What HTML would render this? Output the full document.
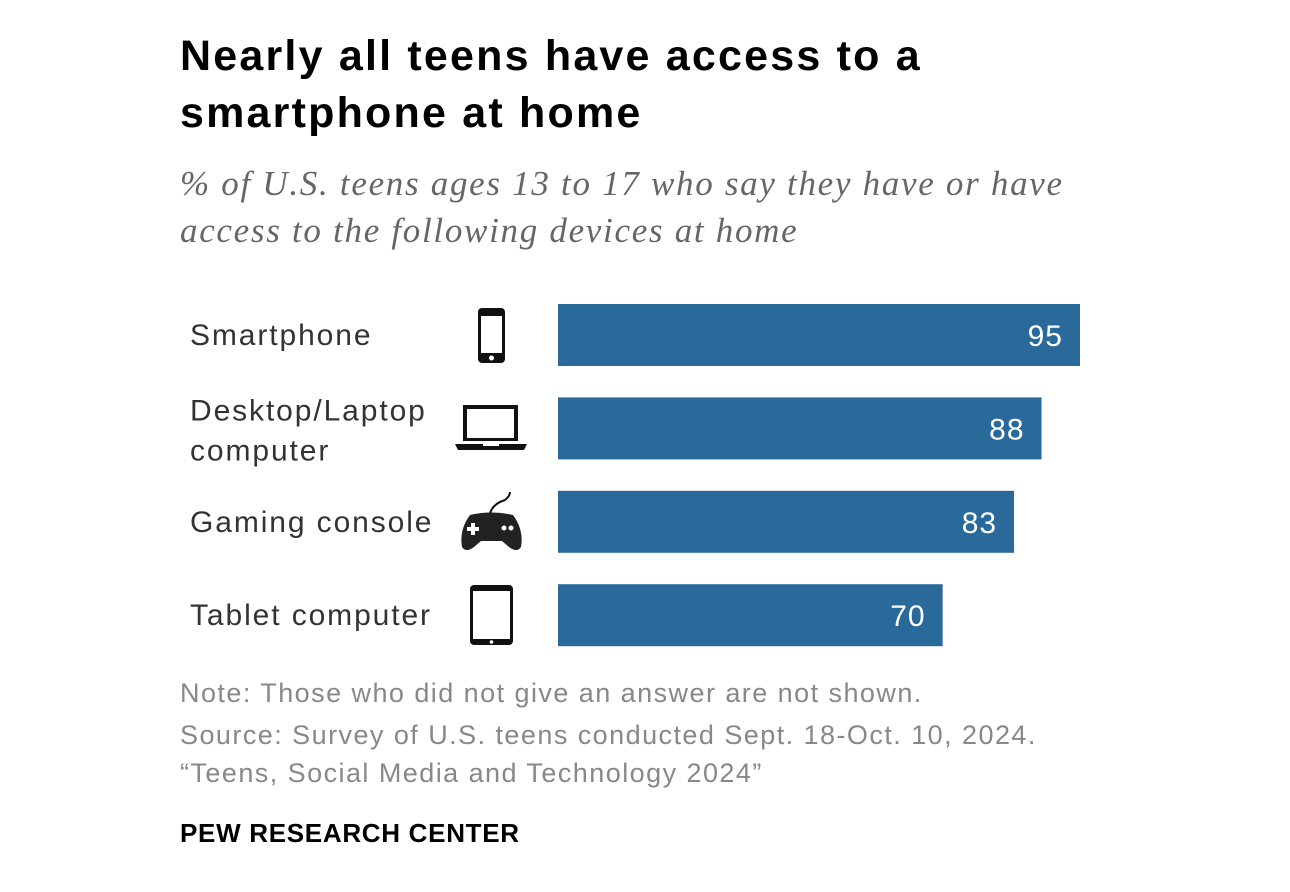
<!DOCTYPE html>
<html><head><meta charset="utf-8"><style>
html,body{margin:0;padding:0;background:#fff;}
body{width:1290px;height:892px;position:relative;overflow:hidden;font-family:"Liberation Sans",sans-serif;}
.t{position:absolute;left:180px;top:28px;font-size:43px;font-weight:bold;line-height:57px;color:#000;letter-spacing:2.2px;}
.s{position:absolute;left:180px;top:160px;font-family:"Liberation Serif",serif;font-style:italic;font-size:35px;line-height:47px;color:#666;letter-spacing:1.7px;}
.n{position:absolute;left:180px;font-size:27px;color:#888;letter-spacing:1.45px;}
.p{position:absolute;left:180px;top:818px;font-size:26px;font-weight:bold;color:#000;letter-spacing:0.7px;}
</style></head><body>
<div class="t">Nearly all teens have access to a<br>smartphone at home</div>
<div class="s">% of U.S. teens ages 13 to 17 who say they have or have<br>access to the following devices at home</div>
<svg id="chart" width="1290" height="892" style="position:absolute;left:0;top:0">
<g>
<rect x="478" y="308" width="27" height="55" rx="4" fill="#111"/><rect x="481" y="316" width="21" height="37" fill="#fff"/><circle cx="491.5" cy="358" r="2.5" fill="#fff"/></g>
<g>
<rect x="463" y="405" width="55" height="36" fill="#111"/><rect x="467" y="409" width="47" height="29" fill="#fff"/><path d="M455 444 L527 444 L524 450 L458 450 Z" fill="#111"/><rect x="483" y="444" width="16" height="2" fill="#fff"/></g>
<g>
<path d="M489 520 Q489 505 505 500 Q510 496 510 492" stroke="#111" stroke-width="2" fill="none"/>
<path d="M470 515 Q491 510 513 515 Q524 530 521 547 Q517 553 509 547 L502 541 L481 541 L474 547 Q466 553 462 547 Q459 530 470 515 Z" fill="#222"/>
<rect x="467" y="527" width="12" height="4" fill="#fff"/><rect x="471" y="523" width="4" height="12" fill="#fff"/><circle cx="504" cy="528" r="2.5" fill="#fff"/><circle cx="511" cy="528" r="2.5" fill="#fff"/></g>
<g>
<rect x="470" y="585" width="43" height="60" rx="4" fill="#111"/><rect x="473" y="591" width="37" height="48" fill="#fff"/><circle cx="491.5" cy="642" r="1.8" fill="#fff"/></g>
</svg>
<div class="n" style="top:678px">Note: Those who did not give an answer are not shown.</div>
<div class="n" style="top:720px">Source: Survey of U.S. teens conducted Sept. 18-Oct. 10, 2024.</div>
<div class="n" style="top:758px">“Teens, Social Media and Technology 2024”</div>
<div class="p">PEW RESEARCH CENTER</div>
<script>
const categories=["Smartphone","Desktop/Laptop|computer","Gaming console","Tablet computer"];
const values=[95,88,83,70];
const svg=document.getElementById('chart');
const NS='http://www.w3.org/2000/svg';
const x0=558, scale=522/95, y0=304, step=93.4, bh=62;
const xs=v=>scale*v;
categories.forEach((c,i)=>{
  const y=y0+i*step;
  const r=document.createElementNS(NS,'rect');
  r.setAttribute('x',x0);r.setAttribute('y',y);r.setAttribute('width',xs(values[i]));r.setAttribute('height',bh);r.setAttribute('fill','#2a6a9b');
  
  
  svg.appendChild(r);
  const v=document.createElementNS(NS,'text');
  v.setAttribute('x',x0+xs(values[i])-17);v.setAttribute('y',y+42);v.setAttribute('text-anchor','end');
  v.setAttribute('font-size','30');v.setAttribute('letter-spacing','1');v.setAttribute('fill','#fff');v.setAttribute('font-family','Liberation Sans, sans-serif');
  v.textContent=values[i];
  
  
  svg.appendChild(v);
  const lines=c.split('|');
  lines.forEach((ln,j)=>{
    const t=document.createElementNS(NS,'text');
    const ty=lines.length==1? y+41 : y+23+j*40;
    t.setAttribute('x',190);t.setAttribute('y',ty);t.setAttribute('font-size','30');t.setAttribute('letter-spacing','1.9');t.setAttribute('fill','#333');
    t.setAttribute('font-family','Liberation Sans, sans-serif');
    t.textContent=ln;
    
    
    svg.appendChild(t);
  });
});
</script>
</body></html>
